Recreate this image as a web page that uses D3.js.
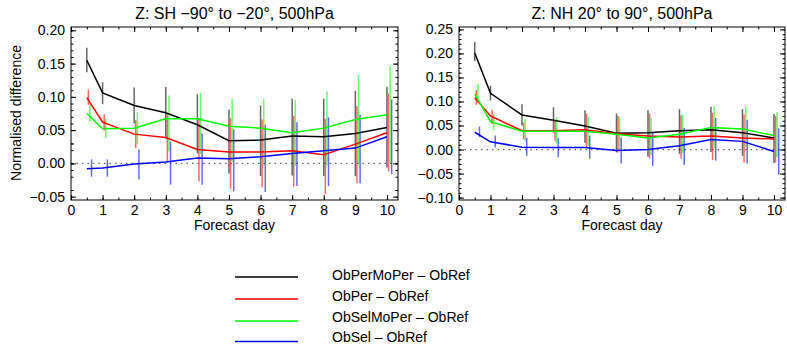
<!DOCTYPE html>
<html>
<head>
<meta charset="utf-8">
<script src="https://cdn.jsdelivr.net/npm/d3@7"></script>
<style>
  body { margin: 0; background: #fff; }
  svg { font-family: "Liberation Sans", Arial, Helvetica, sans-serif; }
</style>
</head>
<body>
<svg width="787" height="344"></svg>
<script>
var svg = d3.select("svg");

var days = [0.5, 1, 2, 3, 4, 5, 6, 7, 8, 9, 10];
var seriesNames = ["ObPerMoPer \u2013 ObRef", "ObPer \u2013 ObRef", "ObSelMoPer \u2013 ObRef", "ObSel \u2013 ObRef"];
var colors = ["#000000", "#ff0000", "#00ff00", "#0000ff"];

// SH -90 to -20
var shMean = [
  [0.155, 0.106, 0.087, 0.076, 0.058, 0.034, 0.035, 0.041, 0.040, 0.045, 0.054],
  [0.099, 0.062, 0.044, 0.039, 0.021, 0.017, 0.017, 0.019, 0.013, 0.029, 0.046],
  [0.075, 0.052, 0.053, 0.067, 0.067, 0.056, 0.053, 0.046, 0.053, 0.066, 0.073],
  [-0.008, -0.007, -0.001, 0.002, 0.008, 0.007, 0.010, 0.015, 0.019, 0.023, 0.040]
];
var shLow = [
  [0.137, 0.089, 0.060, 0.037, 0.015, -0.015, -0.019, -0.018, -0.019, -0.019, -0.006],
  [0.088, 0.049, 0.023, 0.003, -0.027, -0.038, -0.036, -0.035, -0.046, -0.030, -0.012],
  [0.063, 0.038, 0.029, 0.018, 0.014, 0.002, -0.003, -0.004, -0.003, -0.001, 0.000],
  [-0.020, -0.020, -0.024, -0.032, -0.032, -0.042, -0.043, -0.034, -0.034, -0.030, -0.016]
];
var shHigh = [
  [0.174, 0.122, 0.114, 0.115, 0.104, 0.081, 0.087, 0.097, 0.097, 0.109, 0.115],
  [0.111, 0.074, 0.065, 0.075, 0.068, 0.068, 0.066, 0.071, 0.067, 0.086, 0.105],
  [0.088, 0.067, 0.077, 0.102, 0.106, 0.097, 0.097, 0.095, 0.108, 0.133, 0.146],
  [0.006, 0.006, 0.021, 0.033, 0.045, 0.051, 0.058, 0.062, 0.069, 0.073, 0.096]
];

// NH 20 to 90
var nhMean = [
  [0.201, 0.117, 0.072, 0.061, 0.049, 0.034, 0.035, 0.039, 0.041, 0.035, 0.024],
  [0.108, 0.070, 0.039, 0.039, 0.041, 0.033, 0.028, 0.026, 0.028, 0.024, 0.022],
  [0.116, 0.058, 0.038, 0.038, 0.038, 0.032, 0.024, 0.032, 0.046, 0.043, 0.029],
  [0.036, 0.016, 0.005, 0.004, 0.004, -0.002, 0.000, 0.008, 0.021, 0.017, -0.004]
];
var nhLow = [
  [0.184, 0.102, 0.050, 0.035, 0.014, -0.006, -0.015, -0.009, -0.005, -0.013, -0.028],
  [0.093, 0.053, 0.021, 0.017, 0.004, -0.006, -0.019, -0.019, -0.022, -0.027, -0.027],
  [0.097, 0.041, 0.017, 0.013, 0.008, -0.002, -0.012, -0.007, 0.003, 0.005, -0.016],
  [0.026, 0.004, -0.013, -0.016, -0.019, -0.029, -0.034, -0.032, -0.023, -0.029, -0.052]
];
var nhHigh = [
  [0.224, 0.133, 0.094, 0.088, 0.082, 0.075, 0.082, 0.084, 0.089, 0.084, 0.074],
  [0.123, 0.083, 0.056, 0.061, 0.075, 0.070, 0.075, 0.071, 0.076, 0.073, 0.070],
  [0.137, 0.073, 0.063, 0.067, 0.068, 0.068, 0.065, 0.073, 0.090, 0.089, 0.078],
  [0.048, 0.029, 0.024, 0.024, 0.029, 0.025, 0.036, 0.045, 0.066, 0.062, 0.044]
];

var xTicks = d3.range(0, 11, 1);
var xMinor = d3.range(0, 10.4, 0.5);
var shTicks = [-0.05, 0.00, 0.05, 0.10, 0.15, 0.20];
var nhTicks = [-0.10, -0.05, 0.00, 0.05, 0.10, 0.15, 0.20, 0.25];

var plotTop = 27, plotBottom = 200;

function panel(opt) {
  var x = d3.scaleLinear().domain([0, 10.35]).range([opt.left, opt.right]);
  var y = d3.scaleLinear().domain(opt.ydom).range([plotBottom, plotTop]);
  var g = svg.append("g");

  // zero line
  g.append("line")
    .attr("x1", opt.left).attr("x2", opt.right)
    .attr("y1", y(0)).attr("y2", y(0))
    .attr("stroke", "#666").attr("stroke-width", 1.2)
    .attr("stroke-dasharray", "1.5,4");

  // error bars
  opt.lo.forEach(function(lo, s) {
    g.append("g").selectAll("line")
      .data(days).enter().append("line")
      .attr("x1", function(d) { return x(d + s * 0.05); })
      .attr("x2", function(d) { return x(d + s * 0.05); })
      .attr("y1", function(d, i) { return y(lo[i]); })
      .attr("y2", function(d, i) { return y(opt.hi[s][i]); })
      .attr("stroke", colors[s])
      .attr("stroke-opacity", 0.6)
      .attr("stroke-width", 1.5);
  });

  var line = d3.line()
    .x(function(d) { return x(d[0]); })
    .y(function(d) { return y(d[1]); });

  opt.mean.forEach(function(m, s) {
    g.append("path")
      .datum(days.map(function(d, i) { return [d, m[i]]; }))
      .attr("fill", "none")
      .attr("stroke", colors[s])
      .attr("stroke-width", 1.5)
      .attr("d", line);
  });

  var fs = "14px";
  // bottom axis
  var bx = g.append("g").attr("transform", "translate(0," + plotBottom + ")")
    .call(d3.axisBottom(x).tickValues(xTicks).tickSize(-5).tickPadding(5).tickFormat(d3.format("d")));
  var bxm = g.append("g").attr("transform", "translate(0," + plotBottom + ")")
    .call(d3.axisBottom(x).tickValues(xMinor).tickSize(-2.5).tickFormat(""));
  var tx = g.append("g").attr("transform", "translate(0," + plotTop + ")")
    .call(d3.axisTop(x).tickValues(xTicks).tickSize(-5).tickFormat(""));
  var txm = g.append("g").attr("transform", "translate(0," + plotTop + ")")
    .call(d3.axisTop(x).tickValues(xMinor).tickSize(-2.5).tickFormat(""));

  var yMinor = d3.range(opt.ydom[0], opt.ydom[1], 0.01)
    .map(function(v) { return Math.round(v * 100) / 100; })
    .filter(function(v) { return v >= opt.ydom[0] && v <= opt.ydom[1]; });
  var ly = g.append("g").attr("transform", "translate(" + opt.left + ",0)")
    .call(d3.axisLeft(y).tickValues(opt.yticks).tickSize(-5).tickPadding(6).tickFormat(d3.format(".2f")));
  var lym = g.append("g").attr("transform", "translate(" + opt.left + ",0)")
    .call(d3.axisLeft(y).tickValues(yMinor).tickSize(-2.5).tickFormat(""));
  var ry = g.append("g").attr("transform", "translate(" + opt.right + ",0)")
    .call(d3.axisRight(y).tickValues(opt.yticks).tickSize(-5).tickFormat(""));
  var rym = g.append("g").attr("transform", "translate(" + opt.right + ",0)")
    .call(d3.axisRight(y).tickValues(yMinor).tickSize(-2.5).tickFormat(""));

  [bx, bxm, tx, txm, ly, lym, ry, rym].forEach(function(a) {
    a.select(".domain").remove();
    a.selectAll("text").attr("font-size", fs).attr("fill", "#000")
      .attr("font-family", "'Liberation Sans', Arial, sans-serif");
    a.selectAll("line").attr("stroke", "#000");
  });
  ly.selectAll("text").text(function(d) { return d3.format(".2f")(d).replace("-", "\u2212"); });

  g.append("rect")
    .attr("x", opt.left).attr("y", plotTop)
    .attr("width", opt.right - opt.left).attr("height", plotBottom - plotTop)
    .attr("fill", "none").attr("stroke", "#000").attr("stroke-width", 1);

  g.append("text")
    .attr("x", (opt.left + opt.right) / 2).attr("y", 19)
    .attr("text-anchor", "middle").attr("font-size", "16px")
    .text(opt.title);

  g.append("text")
    .attr("x", (opt.left + opt.right) / 2).attr("y", 230)
    .attr("text-anchor", "middle").attr("font-size", "14px")
    .text("Forecast day");
}

panel({ left: 71, right: 398, ydom: [-0.055, 0.205], yticks: shTicks,
  mean: shMean, lo: shLow, hi: shHigh, title: "Z: SH \u221290\u00b0 to \u221220\u00b0, 500hPa" });
panel({ left: 459, right: 785, ydom: [-0.105, 0.255], yticks: nhTicks,
  mean: nhMean, lo: nhLow, hi: nhHigh, title: "Z: NH 20\u00b0 to 90\u00b0, 500hPa" });

svg.append("text")
  .attr("transform", "translate(21,113) rotate(-90)")
  .attr("text-anchor", "middle").attr("font-size", "14px")
  .text("Normalised difference");

// legend
var legLineY = [277, 299, 321, 341.5];
var legTextY = [280, 301, 322, 342];
var leg = svg.append("g").selectAll("g")
  .data(seriesNames).enter().append("g");
leg.append("line")
  .attr("x1", 235).attr("x2", 298)
  .attr("y1", function(d, i) { return legLineY[i]; })
  .attr("y2", function(d, i) { return legLineY[i]; })
  .attr("stroke", function(d, i) { return colors[i]; })
  .attr("stroke-width", 1.5);
leg.append("text")
  .attr("x", 332)
  .attr("y", function(d, i) { return legTextY[i]; })
  .attr("font-size", "14px")
  .text(function(d) { return d; });
</script>
</body>
</html>
